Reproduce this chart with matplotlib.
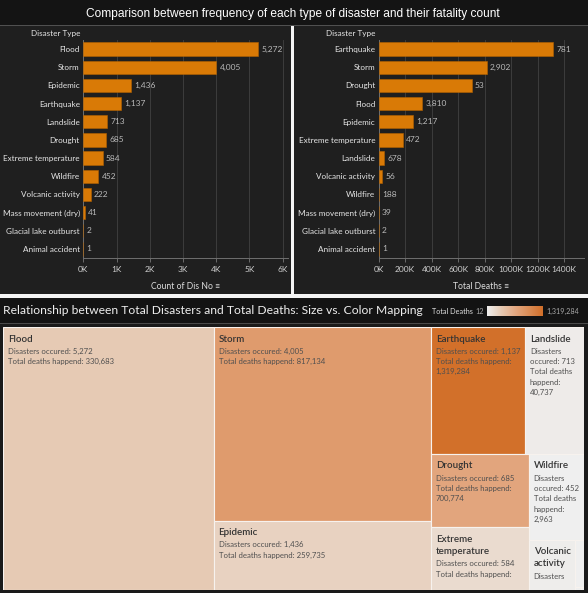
import textwrap

import matplotlib
matplotlib.use("Agg")
import matplotlib.pyplot as plt
import numpy as np
from matplotlib.colors import LinearSegmentedColormap, Normalize
from matplotlib.patches import Rectangle
from matplotlib.ticker import FuncFormatter

# data, in the order of the disaster-count chart
types = ["Flood", "Storm", "Epidemic", "Earthquake", "Landslide", "Drought",
         "Extreme temperature", "Wildfire", "Volcanic activity",
         "Mass movement (dry)", "Glacial lake outburst", "Animal accident"]
counts = [5272, 4005, 1436, 1137, 713, 685, 584, 452, 222, 41, 2, 1]
deaths = [330683, 817134, 259735, 1319284, 40737, 700774, 182000, 2963,
          25000, 1200, 140, 12]
death_labels = ["3,810", "2,902", "1,217", "781", "678", "53", "472", "188",
                "56", "39", "2", "1"]

FW, FH = 588, 593
BAR = "#d97a06"
FONT = ["Lato", "DejaVu Sans"]
plt.rcParams["font.family"] = FONT


def fx(x):
    return x / FW


def fy(y):
    return 1 - y / FH


def frect(fig, x0, y0, x1, y1, color):
    # background blocks sit below every axes
    fig.patches.append(Rectangle((fx(x0), fy(y1)), fx(x1 - x0), (y1 - y0) / FH,
                                 transform=fig.transFigure, color=color,
                                 zorder=-5, lw=0))


def add_ax(fig, x0, y0, x1, y1):
    return fig.add_axes([fx(x0), fy(y1), fx(x1 - x0), (y1 - y0) / FH])


def bar_panel(ax, names, vals, labels, xmax, step, xlabel):
    pos = np.arange(len(names))
    ax.set_facecolor("#1f1f1f")
    ax.barh(pos, vals, height=0.74, color=BAR, edgecolor="#b56300", lw=0.4,
            zorder=3)
    for p, v, lab in zip(pos, vals, labels):
        ax.annotate(lab, (v, p), xytext=(2.3, 0), textcoords="offset points",
                    va="center", ha="left", color="#b9b9b9", fontsize=6)
    ax.set_ylim(len(names) - 0.5, -0.5)
    ax.set_yticks(pos, names)
    ax.set_xlim(0, xmax)
    ax.set_xticks(np.arange(0, xmax, step))
    ax.xaxis.set_major_formatter(FuncFormatter(lambda v, _: f"{v / 1000:.0f}K"))
    ax.tick_params(axis="y", length=0, pad=2.5, colors="#e6e6e6", labelsize=5.9)
    ax.tick_params(axis="x", length=3, width=0.6, color="#777777", pad=3,
                   labelcolor="#cfcfcf", labelsize=6)
    ax.grid(axis="x", color="#3c3c3c", lw=0.7, zorder=0)
    for s in ["top", "right"]:
        ax.spines[s].set_visible(False)
    for s in ["left", "bottom"]:
        ax.spines[s].set_color("#6f6f6f")
        ax.spines[s].set_linewidth(0.7)
    ax.set_xlabel(xlabel, color="#dddddd", fontsize=6.2, labelpad=6)


def squarify(vals, x, y, w, h):
    # greedy squarified layout: grow a strip while its first cell gets squarer
    rects = []
    i = 0
    while i < len(vals):
        rest = sum(vals[i:])
        vertical = w >= h
        side = h if vertical else w
        span = w if vertical else h

        def ratio(j):
            s = sum(vals[i:j])
            thick = span * s / rest
            length = side * vals[i] / s
            return max(thick / length, length / thick)

        j = i + 1
        while j < len(vals) and ratio(j + 1) < ratio(j):
            j += 1
        s = sum(vals[i:j])
        thick = span * s / rest
        pos = 0
        for v in vals[i:j]:
            ln = side * v / s
            if vertical:
                rects.append((x, y + pos, thick, ln))
            else:
                rects.append((x + pos, y, ln, thick))
            pos += ln
        if vertical:
            x += thick
            w -= thick
        else:
            y += thick
            h -= thick
        i = j
    return rects


fig = plt.figure(figsize=(FW / 100, FH / 100), dpi=100)
fig.patch.set_facecolor("#1f1f1f")

# top header + panel separators
frect(fig, 0, 0, FW, 25, "#141414")
frect(fig, 0, 25, FW, 26.2, "#505050")
frect(fig, 291, 26, 293.5, 294, "#f4f4f4")
frect(fig, 0, 294, FW, 298, "#f4f4f4")
frect(fig, 0, 298, FW, 323, "#131313")
frect(fig, 0, 323, FW, 324, "#4a4a4a")
frect(fig, 0, 324, FW, FH, "#1a1a1a")
fig.text(fx(293), fy(13.5), "Comparison between frequency of each type of disaster "
         "and their fatality count", ha="center", va="center", color="white",
         fontsize=8.6, family=["Liberation Sans", "DejaVu Sans"])

# left: count of disasters
ax1 = add_ax(fig, 83.3, 40, 288, 258)
bar_panel(ax1, types, counts, [f"{c:,}" for c in counts], 6165, 1000,
          "Count of Dis No \u2261")
fig.text(fx(80), fy(33.5), "Disaster Type", ha="right", va="center",
         color="#e6e6e6", fontsize=5.9)

# right: total deaths, sorted by deaths
order = np.argsort(deaths)[::-1]
ax2 = add_ax(fig, 378.7, 40, 584, 258)
bar_panel(ax2, [types[k] for k in order], [deaths[k] for k in order],
          [death_labels[k] for k in order], 1550000, 200000, "Total Deaths \u2261")
fig.text(fx(375), fy(33.5), "Disaster Type", ha="right", va="center",
         color="#e6e6e6", fontsize=5.9)

# bottom title and colour legend
fig.text(fx(3), fy(311), "Relationship between Total Disasters and Total Deaths: "
         "Size vs. Color Mapping", ha="left", va="center", color="#eeeeee",
         fontsize=8.7)
cmap = LinearSegmentedColormap.from_list(
    "deaths", [(0, "#efefef"), (0.25, "#e6cab4"), (0.53, "#e2a57d"),
               (1, "#d2702a")])
norm = Normalize(min(deaths), max(deaths))
fig.text(fx(432), fy(311.5), "Total Deaths", ha="left", va="center",
         color="#e0e0e0", fontsize=5.2)
fig.text(fx(475), fy(311.5), f"{min(deaths):,}", ha="left", va="center",
         color="#a8a8a8", fontsize=5.2)
fig.text(fx(546), fy(311.5), f"{max(deaths):,}", ha="left", va="center",
         color="#a8a8a8", fontsize=5.2)
lax = add_ax(fig, 487, 306, 543, 316)
lax.imshow(np.linspace(0, 1, 256)[None, :], aspect="auto", cmap=cmap)
lax.set_axis_off()

# treemap: area = number of disasters, colour = total deaths
TW, TH = 581, 263
tax = add_ax(fig, 3, 327, 3 + TW, 327 + TH)
tax.set_xlim(0, TW)
tax.set_ylim(TH, 0)
tax.set_axis_off()
for (x, y, w, h), name, c, d in zip(squarify(counts, 0, 0, TW, TH), types,
                                    counts, deaths):
    tax.add_patch(Rectangle((x, y), w, h, facecolor=cmap(norm(d)),
                            edgecolor="#f7f2ee", lw=0.8))
    if w < 25:
        continue
    name_lines = textwrap.wrap(name, max(int((w - 10) / 4.8), 1),
                               break_long_words=False)
    info = textwrap.wrap(f"Disasters occured: {c:,}", int((w - 10) / 3.4),
                         break_long_words=False)
    info += textwrap.wrap(f"Total deaths happend: {d:,}", int((w - 10) / 3.4),
                          break_long_words=False)
    ty = y + 12
    for ln in name_lines:
        if ty + 6.5 > y + h:
            break
        tax.text(x + 5, ty, ln, ha="left", va="center", color="#333333",
                 fontsize=7, fontweight="semibold")
        ty += 12.3
    for ln in info:
        if ty + 6.5 > y + h:
            break
        tax.text(x + 5, ty, ln, ha="left", va="center", color="#4f4f4f",
                 fontsize=5.6)
        ty += 10.3

fig.savefig("out.png", dpi=100, facecolor=fig.get_facecolor())
